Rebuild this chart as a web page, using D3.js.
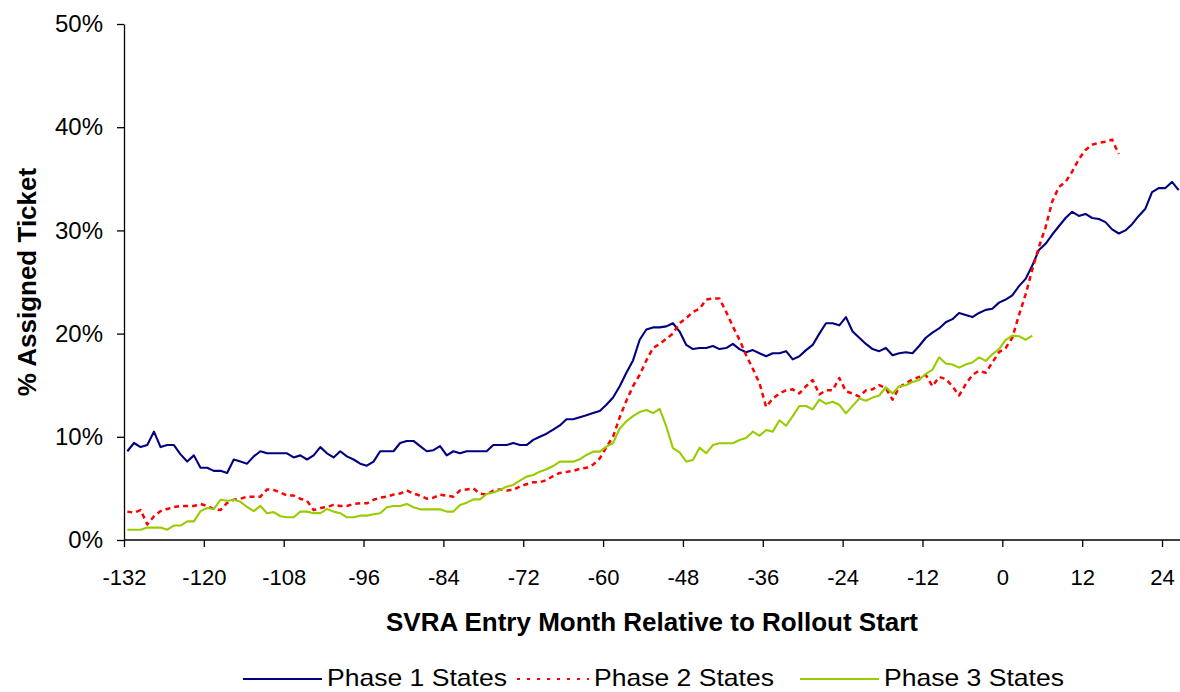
<!DOCTYPE html>
<html>
<head>
<meta charset="utf-8">
<script src="https://cdn.jsdelivr.net/npm/d3@7"></script>
<style>
  body { margin: 0; background: #fff; }
  text { font-family: "Liberation Sans", Arial, sans-serif; }
</style>
</head>
<body>
<div id="chart"></div>
<script>
// months relative to rollout start (first month of each series is -132)
const startMonth = -132;
const xTicks = [-132, -120, -108, -96, -84, -72, -60, -48, -36, -24, -12, 0, 12, 24];
const yTicks = [0, 10, 20, 30, 40, 50];

// % assigned ticket, one value per month from -132
const phase1 = [
  8.6, 9.4, 9.0, 9.2, 10.5, 9.0, 9.2, 9.2, 8.3, 7.6, 8.2, 7.0, 7.0, 6.7, 6.7, 6.5, 7.8, 7.6, 7.4, 8.1,
  8.6, 8.4, 8.4, 8.4, 8.4, 8.0, 8.2, 7.8, 8.2, 9.0, 8.4, 8.0, 8.6, 8.1, 7.8, 7.4, 7.2, 7.6, 8.6, 8.6,
  8.6, 9.4, 9.6, 9.6, 9.1, 8.6, 8.7, 9.1, 8.2, 8.6, 8.4, 8.6, 8.6, 8.6, 8.6, 9.2, 9.2, 9.2, 9.4, 9.2,
  9.2, 9.7, 10.0, 10.3, 10.7, 11.1, 11.7, 11.7, 11.9, 12.1, 12.3, 12.5, 13.1, 13.8, 14.9, 16.2, 17.4, 19.4, 20.4, 20.6,
  20.6, 20.7, 21.0, 20.2, 18.9, 18.5, 18.6, 18.6, 18.8, 18.5, 18.6, 19.0, 18.5, 18.2, 18.4, 18.1, 17.8, 18.1, 18.1, 18.3,
  17.5, 17.8, 18.4, 18.9, 20.0, 21.0, 21.0, 20.8, 21.6, 20.2, 19.6, 19.0, 18.5, 18.3, 18.6, 17.9, 18.1, 18.2, 18.1, 18.8,
  19.6, 20.1, 20.5, 21.1, 21.4, 22.0, 21.8, 21.6, 22.0, 22.3, 22.4, 23.0, 23.3, 23.7, 24.6, 25.3, 26.6, 28.1, 28.7, 29.6,
  30.4, 31.2, 31.8, 31.4, 31.6, 31.2, 31.1, 30.8, 30.1, 29.7, 30.0, 30.6, 31.4, 32.1, 33.7, 34.1, 34.1, 34.7, 33.9
];
const phase2 = [
  2.75, 2.65, 2.9, 1.5, 2.3, 2.8, 3.0, 3.2, 3.3, 3.3, 3.3, 3.5, 3.3, 3.0, 2.9, 3.6, 3.9, 4.0, 4.2, 4.2,
  4.2, 4.9, 4.85, 4.6, 4.3, 4.3, 4.0, 3.8, 2.9, 3.1, 3.2, 3.4, 3.3, 3.3, 3.5, 3.55, 3.55, 3.9, 4.1, 4.2,
  4.4, 4.5, 4.8, 4.5, 4.3, 4.0, 4.1, 4.4, 4.3, 4.2, 4.8, 4.9, 5.0, 4.5, 4.4, 4.8, 4.9, 4.8, 4.85, 5.2,
  5.4, 5.6, 5.6, 5.8, 6.2, 6.5, 6.6, 6.7, 6.9, 7.0, 7.3, 7.9, 9.0, 10.0, 11.9, 13.5, 14.9, 16.0, 17.4, 18.6,
  19.0, 19.5, 20.0, 21.0, 21.5, 22.1, 22.4, 23.3, 23.4, 23.4, 22.1, 20.7, 19.4, 17.9, 16.6, 15.2, 12.9, 13.7, 14.2, 14.5,
  14.6, 14.2, 14.9, 15.5, 14.1, 14.5, 14.5, 15.7, 14.4, 14.2, 13.9, 14.5, 14.6, 15.0, 14.7, 13.6, 14.8, 15.2, 15.55, 15.8,
  16.0, 14.9, 15.8, 15.6, 14.9, 14.0, 15.1, 16.0, 16.4, 16.2, 17.2, 18.2, 18.6, 19.6, 21.8, 23.8, 26.2, 28.4, 30.3, 32.8,
  34.2, 34.7, 35.7, 36.9, 37.8, 38.3, 38.5, 38.6, 38.8, 37.4
];
const phase3 = [
  1.0, 1.0, 1.0, 1.2, 1.2, 1.2, 1.0, 1.4, 1.4, 1.8, 1.8, 2.8, 3.1, 3.0, 3.9, 3.8, 3.9, 3.7, 3.2, 2.8,
  3.3, 2.6, 2.7, 2.3, 2.2, 2.2, 2.75, 2.75, 2.6, 2.6, 3.0, 2.75, 2.6, 2.2, 2.2, 2.36, 2.36, 2.5, 2.6, 3.17,
  3.3, 3.3, 3.5, 3.17, 2.97, 2.97, 2.97, 2.97, 2.75, 2.75, 3.4, 3.62, 3.94, 3.94, 4.46, 4.6, 4.84, 5.17, 5.33, 5.75,
  6.14, 6.3, 6.62, 6.85, 7.17, 7.59, 7.59, 7.59, 7.82, 8.24, 8.56, 8.56, 9.04, 9.4, 10.8, 11.5, 12.0, 12.4, 12.6, 12.3,
  12.7, 11.0, 8.9, 8.5, 7.6, 7.75, 8.95, 8.4, 9.2, 9.37, 9.37, 9.37, 9.69, 9.88, 10.5, 10.1, 10.66, 10.5, 11.6, 11.07,
  12.0, 12.98, 12.98, 12.66, 13.6, 13.2, 13.4, 13.1, 12.27, 13.0, 13.7, 13.5, 13.8, 14.0, 14.8, 14.2, 14.9, 15.0, 15.3, 15.5,
  16.1, 16.5, 17.7, 17.1, 17.0, 16.7, 17.0, 17.2, 17.7, 17.35, 18.0, 18.5, 19.4, 19.8, 19.75, 19.4, 19.8
];

const seriesNames = ["Phase 1 States", "Phase 2 States", "Phase 3 States"];
const seriesValues = [phase1, phase2, phase3];
const seriesColors = ["#000080", "#ff0000", "#99cc00"];
const seriesDash = [null, "5,4", null];
const seriesWidth = [2.1, 2.5, 2.1];

const width = 1180, height = 692;
const monthPx = 6.654;

const svg = d3.select("#chart").append("svg")
    .attr("width", width)
    .attr("height", height)
    .style("display", "block");

svg.append("rect").attr("width", width).attr("height", height).attr("fill", "#fff");

// category boundaries on the axis, points sit in the middle of each month
const x = d3.scaleLinear()
    .domain([startMonth, startMonth + 159])
    .range([124, 124 + 159 * monthPx]);

const y = d3.scaleLinear()
    .domain([0, 50])
    .range([540, 24]);

// lines
const line = d3.line()
    .x((d, i) => x(startMonth + i + 0.5))
    .y(d => y(d));

seriesValues.forEach(function (vals, k) {
    svg.append("path")
        .datum(vals)
        .attr("fill", "none")
        .attr("stroke", seriesColors[k])
        .attr("stroke-width", seriesWidth[k])
        .attr("stroke-linejoin", "round")
        .attr("stroke-dasharray", seriesDash[k])
        .attr("d", line);
});

// axes
const xAxis = svg.append("g")
    .attr("transform", "translate(0," + y(0) + ")")
    .call(d3.axisBottom(x).tickValues(xTicks).tickSize(7).tickPadding(22).tickSizeOuter(0)
        .tickFormat(d => String(d)));
xAxis.select(".domain").attr("d", "M124,0H" + width);

const yAxis = svg.append("g")
    .attr("transform", "translate(124,0)")
    .call(d3.axisLeft(y).tickValues(yTicks).tickSize(7).tickPadding(14).tickSizeOuter(0)
        .tickFormat(d => d + "%"));

[xAxis, yAxis].forEach(function (g) {
    g.selectAll(".domain").attr("stroke", "#000").attr("stroke-width", 1.3);
    g.selectAll(".tick line").attr("stroke", "#000").attr("stroke-width", 1.3);
    g.selectAll(".tick text")
        .attr("fill", "#000")
        .style("font-family", "'Liberation Sans', Arial, sans-serif");
});
xAxis.selectAll(".tick text").style("font-size", "22px");
yAxis.selectAll(".tick text").style("font-size", "24px");

// axis titles
svg.append("text")
    .attr("x", 652)
    .attr("y", 631)
    .attr("text-anchor", "middle")
    .style("font-size", "26px")
    .style("font-weight", "bold")
    .text("SVRA Entry Month Relative to Rollout Start");

svg.append("text")
    .attr("transform", "translate(36," + 282 + ") rotate(-90)")
    .attr("text-anchor", "middle")
    .style("font-size", "26px")
    .style("font-weight", "bold")
    .text("% Assigned Ticket");

// legend
const legendX = [243, 517, 800];
const legend = svg.append("g");
seriesNames.forEach(function (name, k) {
    const g = legend.append("g").attr("transform", "translate(" + legendX[k] + ",679)");
    g.append("line")
        .attr("x1", 0).attr("x2", k === 1 ? 72 : 79)
        .attr("y1", 0).attr("y2", 0)
        .attr("stroke", seriesColors[k])
        .attr("stroke-width", k === 1 ? 2 : 2.2)
        .attr("stroke-dasharray", k === 1 ? "3,7" : null);
    g.append("text")
        .attr("x", k === 1 ? 77 : 84)
        .attr("y", 7)
        .attr("textLength", 180)
        .attr("lengthAdjust", "spacingAndGlyphs")
        .style("font-size", "24px")
        .text(name);
});
</script>
</body>
</html>
